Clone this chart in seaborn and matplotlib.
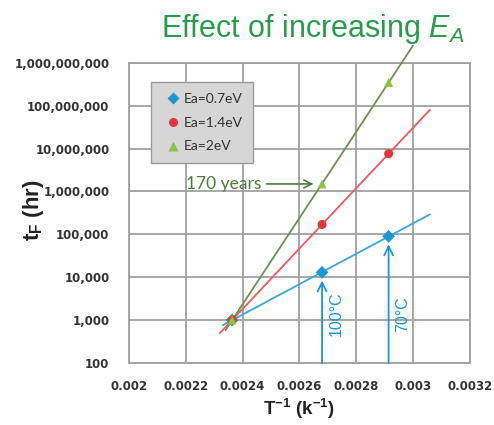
import numpy as np
import pandas as pd
import matplotlib
matplotlib.use("Agg")
import matplotlib.pyplot as plt
from matplotlib.ticker import FixedLocator, FuncFormatter, LogLocator, NullFormatter
import seaborn as sns

# Test temperatures (°C) and measured failure times (hours) per activation energy
temps_c = [150, 100, 70]
series_names = ["Ea=0.7eV", "Ea=1.4eV", "Ea=2eV"]
t_fail_07 = [1000, 13000, 90000]
t_fail_14 = [1000, 170000, 7.6e6]
t_fail_20 = [1000, 1.5e6, 3.5e8]

# Extent of each Arrhenius trend line (1/K)
fit_start = [0.00233, 0.00232, 0.00234]
fit_end = [0.00306, 0.00306, 0.00300]

x_ticks = [0.002, 0.0022, 0.0024, 0.0026, 0.0028, 0.003, 0.0032]
y_ticks = [1e2, 1e3, 1e4, 1e5, 1e6, 1e7, 1e8, 1e9]

inv_t = [1.0 / (t + 273.15) for t in temps_c]

colors = {"Ea=0.7eV": "#1b95d3", "Ea=1.4eV": "#e2363f", "Ea=2eV": "#8cc443"}
line_colors = {"Ea=0.7eV": "#3aa6dd", "Ea=1.4eV": "#ea5a5f", "Ea=2eV": "#6f8f52"}
markers = {"Ea=0.7eV": "D", "Ea=1.4eV": "o", "Ea=2eV": "^"}

points = pd.DataFrame({
    "x": inv_t * 3,
    "t": t_fail_07 + t_fail_14 + t_fail_20,
    "series": [s for s in series_names for _ in temps_c],
})

# Trend lines: least squares fit of log10(t) against 1/T
rows = []
for name, ys, x0, x1 in zip(series_names, [t_fail_07, t_fail_14, t_fail_20], fit_start, fit_end):
    b, a = np.polyfit(inv_t, np.log10(ys), 1)
    for xx in (x0, x1):
        rows.append({"x": xx, "t": 10 ** (a + b * xx), "series": name})
lines = pd.DataFrame(rows)

sns.set_style("white")
plt.rcParams["font.family"] = ["Liberation Sans", "DejaVu Sans"]
plt.rcParams["mathtext.fontset"] = "custom"
plt.rcParams["mathtext.rm"] = "Liberation Sans"
plt.rcParams["mathtext.it"] = "Liberation Sans:italic"
plt.rcParams["mathtext.bf"] = "Liberation Sans:bold"

fig = plt.figure(figsize=(4.94, 4.25), dpi=100)
ax = fig.add_axes([0.261, 0.146, 0.690, 0.706])

grid_c = "#a0a0a0"
ax.set_yscale("log")
ax.set_xlim(0.002, 0.0032)
ax.set_ylim(100, 1e9)

ax.xaxis.set_major_locator(FixedLocator(x_ticks))
ax.xaxis.set_minor_locator(FixedLocator(np.arange(0.002, 0.00321, 0.00005)))
ax.yaxis.set_major_locator(FixedLocator(y_ticks))
ax.yaxis.set_minor_locator(LogLocator(base=10, subs=np.arange(2, 10), numticks=20))
ax.yaxis.set_minor_formatter(NullFormatter())
ax.xaxis.set_major_formatter(FuncFormatter(lambda v, p: f"{v:g}"))
ax.yaxis.set_major_formatter(FuncFormatter(lambda v, p: f"{int(round(v)):,}"))

ax.grid(True, which="major", color=grid_c, linewidth=1.3)
ax.set_axisbelow(True)
for s in ax.spines.values():
    s.set_color(grid_c)
    s.set_linewidth(1.3)
ax.tick_params(axis="both", which="major", length=4, color=grid_c, direction="inout",
               labelsize=8.5, labelcolor="#333333")
ax.tick_params(axis="both", which="minor", length=3, color=grid_c, direction="inout")
ax.tick_params(axis="x", pad=10)
ax.tick_params(axis="y", pad=12)
for lab in ax.get_xticklabels() + ax.get_yticklabels():
    lab.set_fontweight("bold")
    lab.set_family(["DejaVu Sans"])

for name in series_names:
    d = lines[lines.series == name]
    ln, = ax.plot(d.x, d.t, color=line_colors[name], linewidth=1.3, zorder=3)
    ln.set_clip_on(False)

sns.scatterplot(data=points, x="x", y="t", hue="series", style="series",
                palette=colors, markers=markers, s=42, edgecolor="none",
                ax=ax, zorder=4, legend=True)

leg = ax.legend(loc="upper left", bbox_to_anchor=(0.065, 0.935), frameon=True,
                prop={"family": ["Lato", "DejaVu Sans"], "size": 10},
                handletextpad=0.0, labelspacing=0.85, handlelength=1.6,
                borderpad=0.75, fancybox=False, markerscale=1.0, borderaxespad=0)
leg.get_frame().set_facecolor("#d6d6d6")
leg.get_frame().set_edgecolor("#9a9a9a")
leg.get_frame().set_alpha(1)
for t in leg.get_texts():
    t.set_color("#333333")

ax.set_ylabel("")
ax.set_xlabel("T$^{\\mathbf{-1}}$ (k$^{\\mathbf{-1}}$)", fontsize=13.5, fontweight="bold",
              color="#222222", labelpad=3)
fig.text(0.068, 0.505, "t$_{\\mathbf{F}}$ (hr)", fontsize=16, fontweight="bold",
         color="#222222", rotation=90, ha="center", va="center")

fig.text(0.632, 0.913, "Effect of increasing $E_A$", color="#2a9a4c", fontsize=22,
         ha="center", va="baseline")

# 170 years callout on the Ea=2eV point at 100°C
ax.annotate("170 years", xy=(inv_t[1] - 0.00003, t_fail_20[1]),
            xytext=(0.002468, t_fail_20[1]), ha="right", va="center",
            fontsize=12.5, color="#4d7a3a", family=["Lato", "DejaVu Sans"],
            arrowprops=dict(arrowstyle="->", color="#4d7a3a", lw=1.2,
                            mutation_scale=14, shrinkA=1, shrinkB=0))

# Temperature arrows rising from the x axis
for xv, yv, label in [(inv_t[1], t_fail_07[1], "100°C"), (inv_t[2], t_fail_07[2], "70°C")]:
    ax.annotate("", xy=(xv, yv / 1.55), xytext=(xv, 100),
                arrowprops=dict(arrowstyle="->", color="#1b95d3", lw=1.3,
                                mutation_scale=16, shrinkA=0, shrinkB=0))
    ax.text(xv + 0.00005, 1400, label, rotation=90, ha="center", va="center",
            color="#1b95d3", fontsize=11.5)

fig.savefig("out.png", dpi=100)
